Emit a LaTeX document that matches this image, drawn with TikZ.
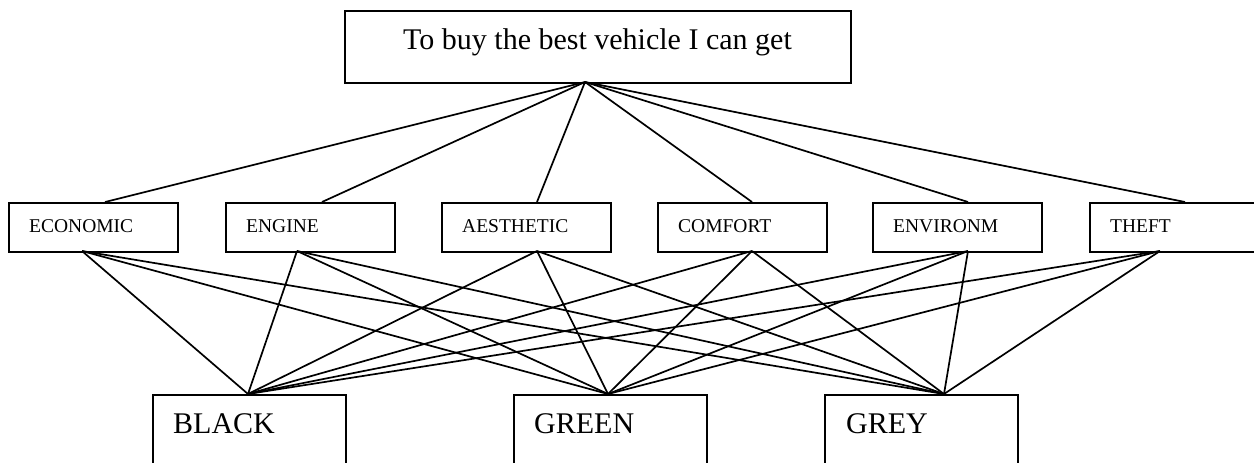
\documentclass[tikz,border=0pt]{standalone}
\usepackage{fontspec}
\setmainfont{Liberation Serif}
\begin{document}
\begin{tikzpicture}[x=1pt,y=-1pt,
  box/.style={draw=black,line width=2pt,rectangle,inner sep=0pt,anchor=north west},
  link/.style={draw=black,line width=1.7pt},
  bigtxt/.style={anchor=base west,inner sep=0pt,font=\fontsize{30}{36}\selectfont},
  smalltxt/.style={anchor=base west,inner sep=0pt,font=\fontsize{19.5}{23}\selectfont}]
\useasboundingbox (0,0) rectangle (1254,463);
\clip (0,0) rectangle (1254,463);

% goal
\node[box,minimum width=506pt,minimum height=72pt] (goal) at (344,10) {};
\node[bigtxt] (goaltxt) at (403,49) {To buy the best vehicle I can get};
\coordinate (g) at (585,82);

% criteria
\foreach \n/\x/\t/\tx/\up/\dn in {
  econ/8/ECONOMIC/29/105/82,
  engine/225/ENGINE/246/322/297,
  aesth/441/AESTHETIC/462/537/537,
  comfort/657/COMFORT/678/752/752,
  environ/872/ENVIRONM/893/968/968,
  theft/1089/THEFT/1110/1185/1160}{
  \node[box,minimum width=169pt,minimum height=49pt] (\n) at (\x,202) {};
  \node[smalltxt] (\n-txt) at (\tx,232) {\t};
  \coordinate (\n-up) at (\up,202);
  \coordinate (\n-dn) at (\dn,251);
}

% alternatives
\foreach \n/\x/\t/\tx/\ap in {
  black/152/BLACK/173/248,
  green/513/GREEN/534/608,
  grey/824/GREY/846/944}{
  \node[box,minimum width=193pt,minimum height=100pt] (\n) at (\x,394) {};
  \node[bigtxt] (\n-txt) at (\tx,433) {\t};
  \coordinate (\n-ap) at (\ap,394);
}

% goal to criteria
\foreach \n in {econ,engine,aesth,comfort,environ,theft}
  \draw[link] (g) -- (\n-up);

% criteria to alternatives
\foreach \n in {econ,engine,aesth,comfort,environ,theft}
  \foreach \a in {black,green,grey}
    \draw[link] (\n-dn) -- (\a-ap);
\end{tikzpicture}
\end{document}
